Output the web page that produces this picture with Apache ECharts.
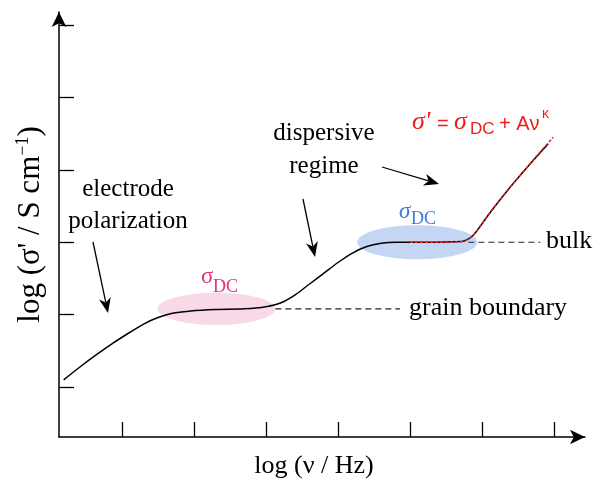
<!DOCTYPE html>
<html>
<head>
<meta charset="utf-8">
<script src="https://cdn.jsdelivr.net/npm/echarts@6/dist/echarts.min.js"></script>
<style>
	html, body { margin: 0; padding: 0; background: #fff; }
	#chart { width: 593px; height: 487px; }
</style>
</head>
<body>
<div id="chart"></div>
<script>
// schematic values: x = log(nu), y = log(sigma'), arbitrary decades
var xTicks = [1, 2, 3, 4, 5, 6, 7];
var yTicks = [1, 2, 3, 4, 5, 6];

var conductivity = [
	[0.19, 1.10], [0.42, 1.28], [0.65, 1.45], [0.88, 1.61], [1.10, 1.75],
	[1.30, 1.87], [1.50, 1.96], [1.70, 2.02], [1.95, 2.05], [2.30, 2.07],
	[2.70, 2.08], [3.00, 2.11], [3.20, 2.16], [3.40, 2.27], [3.60, 2.42],
	[3.80, 2.57], [4.00, 2.72], [4.20, 2.85], [4.40, 2.94], [4.60, 2.985],
	[4.80, 3.00], [5.20, 3.00], [5.72, 3.01], [5.80, 3.04], [5.87, 3.09],
	[5.93, 3.16], [6.04, 3.31], [6.15, 3.46], [6.39, 3.76], [6.63, 4.04],
	[6.81, 4.24], [6.92, 4.36]
];

var fitCurve = [
	[5.00, 3.00], [5.40, 3.00], [5.72, 3.01], [5.80, 3.04], [5.87, 3.09],
	[5.93, 3.16], [6.04, 3.31], [6.15, 3.46], [6.39, 3.76], [6.63, 4.04],
	[6.81, 4.25], [6.99, 4.45]
];

var grainDC = [[2.31, 2.08]];
var bulkDC = [[5.10, 3.00]];
var grainLevel = [[3.13, 2.08], [4.86, 2.08]];
var bulkLevel = [[5.81, 3.00], [6.81, 3.00]];

var serif = "'Liberation Serif', 'Times New Roman', serif";
var sans = "'Liberation Sans', Arial, sans-serif";

function arrow(x1, y1, x2, y2) {
	var a = Math.atan2(y2 - y1, x2 - x1);
	var c = Math.cos(a), s = Math.sin(a);
	var L = 15, W = 6;
	var bx = x2 - L * c, by = y2 - L * s;
	var nx = x2 - L * 0.72 * c, ny = y2 - L * 0.72 * s;
	return [{
		type: 'line',
		shape: { x1: x1, y1: y1, x2: nx, y2: ny },
		style: { stroke: '#000', lineWidth: 1.3 }
	}, {
		type: 'polygon',
		shape: { points: [[x2, y2], [bx - s * W, by + c * W], [nx, ny], [bx + s * W, by - c * W]] },
		style: { fill: '#000' }
	}];
}

function txt(str, x, y, opt) {
	opt = opt || {};
	return {
		type: 'text', x: x, y: y, z: 10,
		style: {
			text: str,
			fontFamily: opt.family || serif,
			fontSize: opt.size || 25,
			fontStyle: opt.italic ? 'italic' : 'normal',
			fill: opt.color || '#000',
			align: opt.align || 'center',
			verticalAlign: 'middle'
		}
	};
}

var red = '#f01c1c';
var pinkText = '#e8307c';
var blueText = '#3a7be0';

var graphics = [].concat(
	arrow(93, 242, 108, 313),
	arrow(303, 199, 315, 257),
	arrow(382, 167, 439, 184),
	[
		txt('electrode', 128, 189),
		txt('polarization', 128, 221),
		txt('dispersive', 324, 133),
		txt('regime', 324, 166),
		txt('grain boundary', 409, 308, { align: 'left', size: 26 }),
		txt('bulk', 546, 241, { align: 'left', size: 26 }),
		txt('σ', 201, 277, { size: 23, color: pinkText, align: 'left' }),
		txt('DC', 213, 287, { size: 18, color: pinkText, align: 'left' }),
		txt('σ', 399, 212, { size: 23, italic: true, color: blueText, align: 'left' }),
		txt('DC', 411, 219, { size: 18, color: blueText, align: 'left' }),
		txt("σ'", 412, 122, { size: 26, italic: true, color: red, align: 'left' }),
		txt('=', 437, 124, { size: 20, family: sans, color: red, align: 'left' }),
		txt('σ', 454, 122, { size: 26, italic: true, color: red, align: 'left' }),
		txt('DC', 470, 129, { size: 17, family: sans, color: red, align: 'left' }),
		txt('+ Aν', 499, 124, { size: 20, family: sans, color: red, align: 'left' }),
		txt('κ', 542, 114, { size: 14, family: sans, color: red, align: 'left' })
	]
);

var chart = echarts.init(document.getElementById('chart'), null, { renderer: 'canvas' });

chart.setOption({
	animation: false,
	backgroundColor: '#fff',
	grid: { left: 59, right: 8, top: 12, bottom: 50, containLabel: false },
	xAxis: {
		type: 'value', min: 0.125, max: 7.43,
		name: 'log (ν / Hz)', nameLocation: 'middle', nameGap: 16,
		nameTextStyle: { fontFamily: serif, fontSize: 26, color: '#000', padding: [0, 16, 0, 0] },
		axisLine: { lineStyle: { color: '#000', width: 1.5 }, symbol: ['none', 'arrow'], symbolSize: [11, 15] },
		axisTick: { inside: true, length: 15, lineStyle: { color: '#000', width: 1.3 }, customValues: xTicks },
		axisLabel: { show: false },
		splitLine: { show: false }
	},
	yAxis: {
		type: 'value', min: 0.31, max: 6.18,
		name: "log (σ' / S cm{s|−1})", nameLocation: 'middle', nameGap: 11,
		nameTextStyle: {
			fontFamily: serif, fontSize: 31, color: '#000', lineHeight: 34,
			rich: { s: { fontFamily: serif, fontSize: 18, lineHeight: 18, verticalAlign: 'top', color: '#000' } }
		},
		axisLine: { lineStyle: { color: '#000', width: 1.5 }, symbol: ['none', 'arrow'], symbolSize: [11, 15] },
		axisTick: { inside: true, length: 15, lineStyle: { color: '#000', width: 1.3 }, customValues: yTicks },
		axisLabel: { show: false },
		splitLine: { show: false }
	},
	series: [{
		type: 'scatter', data: grainDC, symbol: 'circle', symbolSize: [118, 32],
		itemStyle: { color: '#f6cfe1' }, silent: true, z: 1
	}, {
		type: 'scatter', data: bulkDC, symbol: 'circle', symbolSize: [120, 34],
		itemStyle: { color: '#b7cbf1' }, silent: true, z: 1
	}, {
		type: 'line', data: grainLevel, symbol: 'none', z: 2,
		lineStyle: { color: '#222', width: 1.2, type: [6, 4] }
	}, {
		type: 'line', data: bulkLevel, symbol: 'none', z: 2,
		lineStyle: { color: '#222', width: 1.2, type: [6, 4] }
	}, {
		type: 'line', data: conductivity, symbol: 'none', smooth: 0.35, z: 3,
		lineStyle: { color: '#000', width: 1.5 }
	}, {
		type: 'line', data: fitCurve, symbol: 'none', smooth: 0.35, z: 4,
		lineStyle: { color: red, width: 1.5, type: [3, 2] }
	}],
	graphic: graphics
});
</script>
</body>
</html>
